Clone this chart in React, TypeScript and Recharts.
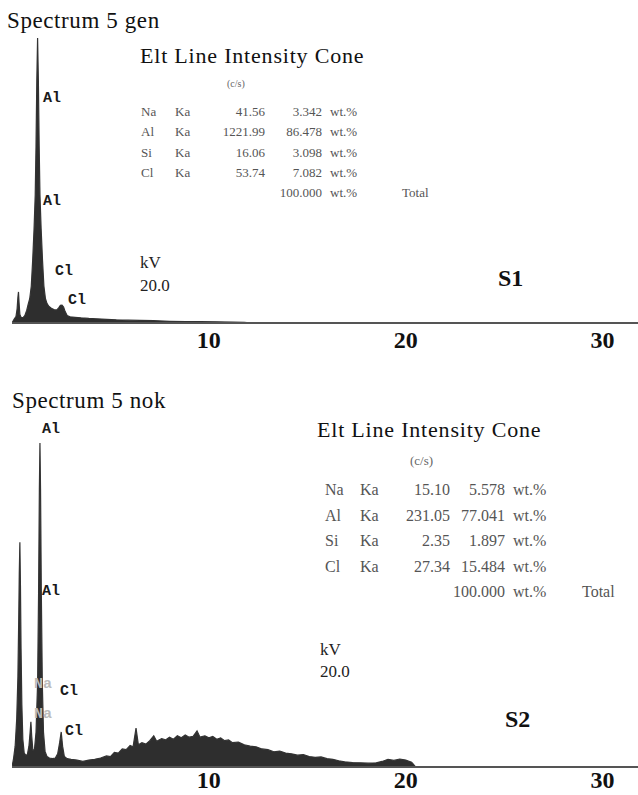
import { Area, AreaChart, XAxis, YAxis } from 'recharts'

// spectrum "5 gen" (energy in keV, counts as % of the panel height)
const genKev = [
  0, 0.12, 0.2, 0.26, 0.3, 0.33, 0.36, 0.4, 0.46, 0.55, 0.65, 0.75, 0.82, 0.9, 0.98, 1.05, 1.12, 1.18,
  1.22, 1.26, 1.3, 1.34, 1.38, 1.42, 1.48, 1.55, 1.62, 1.7, 1.78, 1.88, 2.0, 2.15, 2.28, 2.38, 2.46,
  2.54, 2.62, 2.7, 2.8, 2.95, 3.2, 3.5, 3.9, 4.3, 4.8, 5.3, 5.9, 6.5, 7.2, 8.0, 8.8, 9.6, 10.4, 11.2,
  11.8, 12.2, 31.8,
]
const genCounts = [
  0, 1.5, 2.2, 5, 9, 10.9, 7, 3, 2, 1.8, 2.6, 4.5, 6.5, 8.5, 13, 22, 33, 45, 62, 85, 100, 85, 62, 45,
  33, 22, 13, 8.5, 6.8, 5.8, 5.2, 4.6, 4.6, 5.4, 6.2, 6.3, 5.6, 4, 2.6, 2.2, 2, 1.8, 1.6, 1.5, 1.3,
  1.1, 1.0, 0.9, 0.8, 0.6, 0.5, 0.45, 0.4, 0.3, 0.2, 0, 0,
]

// spectrum "5 nok"
const nokKev = [
  0, 0.08, 0.16, 0.24, 0.3, 0.34, 0.37, 0.4, 0.43, 0.46, 0.5, 0.55, 0.62, 0.7, 0.78, 0.86, 0.92, 0.96,
  1.0, 1.06, 1.14, 1.22, 1.3, 1.35, 1.39, 1.42, 1.45, 1.49, 1.54, 1.6, 1.68, 1.78, 1.9, 2.05, 2.2,
  2.32, 2.42, 2.5, 2.57, 2.66, 2.8, 3.0, 3.3, 3.6, 3.9, 4.2, 4.5, 4.8, 5.0, 5.2, 5.4, 5.6, 5.8, 6.0,
  6.15, 6.3, 6.42, 6.6, 6.8, 7.0, 7.2, 7.35, 7.6, 7.8, 8.0, 8.2, 8.4, 8.6, 8.8, 9.0, 9.2, 9.4, 9.55,
  9.8, 10.0, 10.2, 10.4, 10.6, 10.8, 11.0, 11.2, 11.5, 11.8, 12.1, 12.4, 12.7, 13.0, 13.3, 13.6, 13.9,
  14.2, 14.5, 14.8, 15.1, 15.4, 15.7, 16.0, 16.3, 16.6, 16.9, 17.3, 17.7, 18.1, 18.5, 18.8, 19.1,
  19.4, 19.7, 20.0, 20.3, 20.5, 31.8,
]
const nokCounts = [
  0, 2.5, 6, 14, 26, 42, 56, 64.8, 52, 34, 18, 8, 4, 3.4, 3.6, 6, 10, 13, 9, 4.8, 5, 10, 24, 50, 80,
  93.4, 80, 50, 24, 10, 4.5, 3, 2.6, 2.4, 2.6, 3.8, 7, 10.1, 6, 3, 2.4, 2.2, 2.0, 1.6, 2.0, 2.2, 2.6,
  3.2, 3.0, 4.2, 4.0, 5.2, 5.0, 6.2, 5.8, 11.2, 6.4, 7.0, 6.6, 7.6, 9.0, 7.4, 8.2, 7.8, 8.6, 8.0, 9.0,
  8.4, 9.2, 8.6, 8.8, 10.4, 8.6, 9.0, 8.4, 8.8, 8.0, 8.4, 7.6, 7.8, 7.0, 7.2, 6.4, 6.0, 5.8, 5.2, 5.0,
  4.4, 4.6, 4.0, 3.8, 3.4, 3.6, 3.0, 2.8, 2.9, 2.4, 2.2, 1.8, 1.5, 1.3, 1.2, 1.1, 1.2, 1.6, 2.2, 1.9,
  2.3, 2.0, 1.4, 0, 0,
]

const energyTicks = [10, 20, 30]

// quantification tables
const genElements = ['Na', 'Al', 'Si', 'Cl']
const genLines = ['Ka', 'Ka', 'Ka', 'Ka']
const genIntensity = ['41.56', '1221.99', '16.06', '53.74']
const genConc = ['3.342', '86.478', '3.098', '7.082']

const nokElements = ['Na', 'Al', 'Si', 'Cl']
const nokLines = ['Ka', 'Ka', 'Ka', 'Ka']
const nokIntensity = ['15.10', '231.05', '2.35', '27.34']
const nokConc = ['5.578', '77.041', '1.897', '15.484']

const SERIF = '"Liberation Serif", "Times New Roman", serif'
const MONO = '"Liberation Mono", monospace'

function toRows(kev: number[], counts: number[]) {
  return kev.map((k, i) => ({ kev: k, counts: counts[i] }))
}

interface SpectrumProps {
  kev: number[]
  counts: number[]
  top: number
  height: number
  axisHeight: number
  tickMargin: number
}

function Spectrum({ kev, counts, top, height, axisHeight, tickMargin }: SpectrumProps) {
  return (
    <div style={{ position: 'absolute', left: 0, top }}>
      <AreaChart
        width={638}
        height={height}
        data={toRows(kev, counts)}
        margin={{ top: 38, right: 0, left: 12, bottom: 0 }}
      >
        <XAxis
          dataKey="kev"
          type="number"
          domain={[0, 31.8]}
          ticks={energyTicks}
          allowDataOverflow
          height={axisHeight}
          tickSize={0}
          tickMargin={tickMargin}
          tickLine={false}
          axisLine={{ stroke: '#555', strokeWidth: 2 }}
          tick={{ fontFamily: SERIF, fontSize: 24, fontWeight: 700, fill: '#111' }}
        />
        <YAxis
          domain={[0, 100]}
          allowDataOverflow
          width={0}
          tick={false}
          tickLine={false}
          axisLine={{ stroke: '#a0a0a0', strokeWidth: 1.5 }}
        />
        <Area
          type="linear"
          dataKey="counts"
          stroke="#333"
          strokeWidth={1.2}
          fill="#2e2e2e"
          fillOpacity={1}
          dot={false}
          activeDot={false}
          isAnimationActive={false}
        />
      </AreaChart>
    </div>
  )
}

interface TableProps {
  x: number
  titleY: number
  unitX: number
  unitY: number
  rowY: number
  rowGap: number
  size: number
  cols: number[]
  elements: string[]
  lines: string[]
  intensity: string[]
  conc: string[]
}

function QuantTable(p: TableProps) {
  const [elX, lineX, intEnd, concEnd, wtX, totalX] = p.cols
  return (
    <g fontFamily={SERIF}>
      <text x={p.x} y={p.titleY} fontSize={22} letterSpacing={0.8} fill="#111">
        Elt Line Intensity Cone
      </text>
      <text x={p.unitX} y={p.unitY} fontSize={p.size - 3} fill="#666">
        (c/s)
      </text>
      {p.elements.map((el, i) => {
        const y = p.rowY + i * p.rowGap
        return (
          <g key={el} fontSize={p.size} fill="#555">
            <text x={elX} y={y}>{el}</text>
            <text x={lineX} y={y}>{p.lines[i]}</text>
            <text x={intEnd} y={y} textAnchor="end">{p.intensity[i]}</text>
            <text x={concEnd} y={y} textAnchor="end">{p.conc[i]}</text>
            <text x={wtX} y={y}>wt.%</text>
          </g>
        )
      })}
      <g fontSize={p.size} fill="#555">
        <text x={concEnd} y={p.rowY + 4 * p.rowGap} textAnchor="end">100.000</text>
        <text x={wtX} y={p.rowY + 4 * p.rowGap}>wt.%</text>
        <text x={totalX} y={p.rowY + 4 * p.rowGap}>Total</text>
      </g>
    </g>
  )
}

function Annotations() {
  const peak = { fontFamily: MONO, fontSize: 15, fontWeight: 700, fill: '#1a1a1a' }
  const kv = { fontFamily: SERIF, fontSize: 17, fill: '#222' }
  return (
    <svg
      width={638}
      height={795}
      style={{ position: 'absolute', left: 0, top: 0, pointerEvents: 'none' }}
    >
      {/* panel S1 */}
      <text x={7} y={28} fontFamily={SERIF} fontSize={23} letterSpacing={0.6} fill="#111">
        Spectrum 5 gen
      </text>
      <QuantTable
        x={140}
        titleY={63}
        unitX={227}
        unitY={87}
        rowY={116}
        rowGap={20.3}
        size={13}
        cols={[141, 175, 265, 322, 330, 402]}
        elements={genElements}
        lines={genLines}
        intensity={genIntensity}
        conc={genConc}
      />
      <text x={43} y={102} {...peak}>Al</text>
      <text x={43} y={205} {...peak}>Al</text>
      <text x={55} y={275} {...peak}>Cl</text>
      <text x={68} y={304} {...peak}>Cl</text>
      <text x={140} y={268} {...kv}>kV</text>
      <text x={140} y={291} {...kv}>20.0</text>
      <text x={498} y={286} fontFamily={SERIF} fontSize={24} fontWeight={700} fill="#111">
        S1
      </text>

      {/* panel S2 */}
      <text x={12} y={408} fontFamily={SERIF} fontSize={23} letterSpacing={0.6} fill="#111">
        Spectrum 5 nok
      </text>
      <QuantTable
        x={317}
        titleY={437}
        unitX={410}
        unitY={465}
        rowY={495}
        rowGap={25.5}
        size={16}
        cols={[325, 360, 450, 505, 513, 582]}
        elements={nokElements}
        lines={nokLines}
        intensity={nokIntensity}
        conc={nokConc}
      />
      <text x={42} y={433} {...peak}>Al</text>
      <text x={42} y={595} {...peak}>Al</text>
      <text x={34} y={688} {...peak} fill="#bbb">Na</text>
      <text x={34} y={718} {...peak} fill="#bbb">Na</text>
      <text x={60} y={695} {...peak}>Cl</text>
      <text x={65} y={735} {...peak}>Cl</text>
      <text x={320} y={655} {...kv}>kV</text>
      <text x={320} y={677} {...kv}>20.0</text>
      <text x={505} y={727} fontFamily={SERIF} fontSize={24} fontWeight={700} fill="#111">
        S2
      </text>
    </svg>
  )
}

export default function App() {
  return (
    <div
      style={{
        position: 'absolute',
        left: 0,
        top: 0,
        width: 638,
        height: 795,
        overflow: 'hidden',
        background: '#fff',
      }}
    >
      <Spectrum kev={genKev} counts={genCounts} top={0} height={360} axisHeight={37} tickMargin={8} />
      <Spectrum kev={nokKev} counts={nokCounts} top={382} height={413} axisHeight={28} tickMargin={4} />
      <Annotations />
    </div>
  )
}
